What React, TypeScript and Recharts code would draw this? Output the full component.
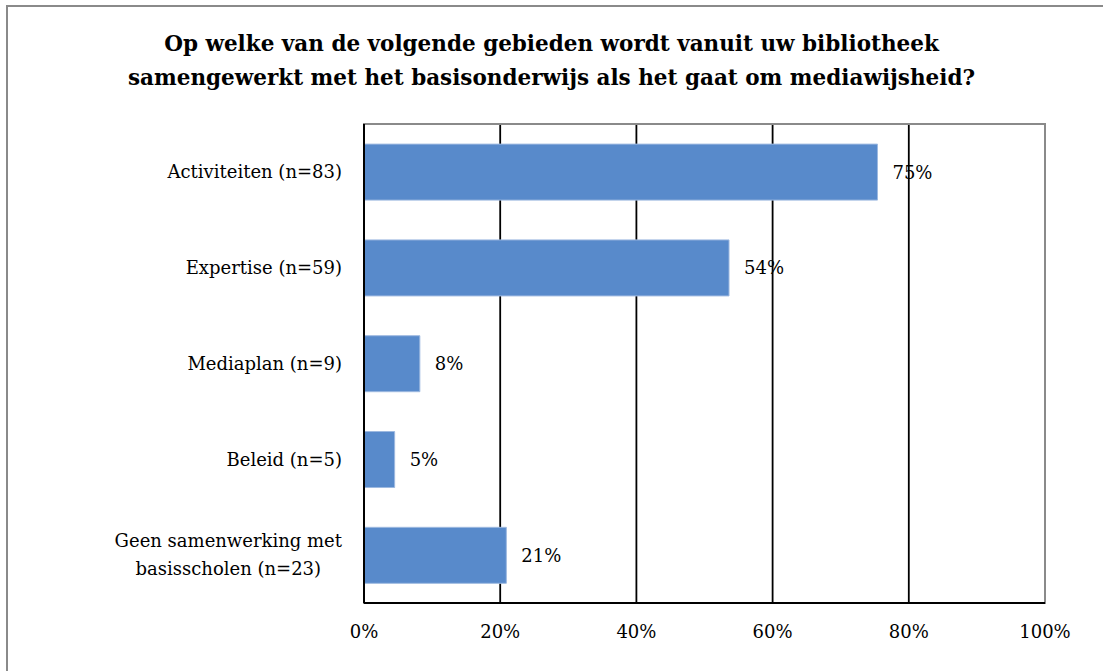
import React from "react";
import {
  Bar,
  BarChart,
  CartesianGrid,
  LabelList,
  ReferenceArea,
  XAxis,
  YAxis,
} from "recharts";

const categories = [
  "Activiteiten (n=83)",
  "Expertise (n=59)",
  "Mediaplan (n=9)",
  "Beleid (n=5)",
  "Geen samenwerking met\nbasisscholen (n=23)",
];
const percentages = [75.4, 53.6, 8.2, 4.5, 20.9];
const xTicks = [0, 20, 40, 60, 80, 100];
const titleLines = [
  "Op welke van de volgende gebieden wordt vanuit uw bibliotheek",
  "samengewerkt met het basisonderwijs als het gaat om mediawijsheid?",
];

const FONT = "'DejaVu Serif', 'Liberation Serif', serif";
const FONT_SIZE = 18;

const data = categories.map((name, i) => ({ name, value: percentages[i] }));

let ctx: CanvasRenderingContext2D | null = null;
function measure(text: string) {
  if (!ctx) ctx = document.createElement("canvas").getContext("2d");
  if (!ctx) return text.length * FONT_SIZE * 0.55;
  ctx.font = `${FONT_SIZE}px 'DejaVu Serif'`;
  return ctx.measureText(text).width;
}

// multi-line category labels, lines centred on each other, block right-aligned
function CategoryTick({ x, y, payload }: any) {
  const lines: string[] = String(payload.value).split("\n");
  const maxW = Math.max(...lines.map(measure));
  const cx = x - maxW / 2;
  const lh = 28;
  return (
    <text
      x={cx}
      y={y}
      textAnchor="middle"
      fill="#000"
      fontFamily={FONT}
      fontSize={FONT_SIZE}
    >
      {lines.map((l, i) => (
        <tspan key={i} x={cx} y={y + (i - (lines.length - 1) / 2) * lh} dy="0.35em">
          {l}
        </tspan>
      ))}
    </text>
  );
}

export default function App() {
  return (
    <div
      style={{
        position: "absolute",
        left: 0,
        top: 0,
        width: 1103,
        height: 671,
        overflow: "hidden",
        background: "#fff",
      }}
    >
      <div
        style={{
          position: "absolute",
          left: 6,
          top: 5,
          width: 1200,
          height: 800,
          border: "2px solid #8a8a8a",
        }}
      />
      <div
        style={{
          position: "absolute",
          left: 0,
          top: 27,
          width: 1103,
          textAlign: "center",
          fontFamily: FONT,
          fontWeight: "bold",
          fontSize: 21.5,
          lineHeight: "34px",
          color: "#000",
        }}
      >
        {titleLines.map((t) => (
          <div key={t}>{t}</div>
        ))}
      </div>
      <div style={{ position: "absolute", left: 0, top: 0 }}>
        <BarChart
          width={1103}
          height={671}
          data={data}
          layout="vertical"
          barCategoryGap="21%"
          margin={{ top: 124, right: 58, bottom: 38, left: 0 }}
        >
          <CartesianGrid horizontal={false} stroke="#000" strokeWidth={1.8} />
          <ReferenceArea
            x1={0}
            x2={100}
            fill="none"
            stroke="#8a8a8a"
            strokeWidth={2}
            ifOverflow="extendDomain"
          />
          <XAxis
            type="number"
            domain={[0, 100]}
            ticks={xTicks}
            tickFormatter={(v) => `${v}%`}
            axisLine={{ stroke: "#000", strokeWidth: 2 }}
            tickLine={false}
            tickSize={0}
            tickMargin={22}
            height={30}
            tick={{ fill: "#000", fontFamily: FONT, fontSize: FONT_SIZE }}
          />
          <YAxis
            type="category"
            dataKey="name"
            width={364}
            axisLine={{ stroke: "#000", strokeWidth: 2 }}
            tickLine={false}
            tickSize={0}
            tickMargin={22}
            tick={<CategoryTick />}
            interval={0}
          />
          <Bar
            dataKey="value"
            fill="#588ACB"
            stroke="#9db9e0"
            strokeWidth={1}
            isAnimationActive={false}
          >
            <LabelList
              dataKey="value"
              position="right"
              offset={15}
              formatter={(v: any) => `${Math.round(Number(v))}%`}
              fill="#000"
              fontFamily={FONT}
              fontSize={FONT_SIZE}
            />
          </Bar>
        </BarChart>
      </div>
    </div>
  );
}
